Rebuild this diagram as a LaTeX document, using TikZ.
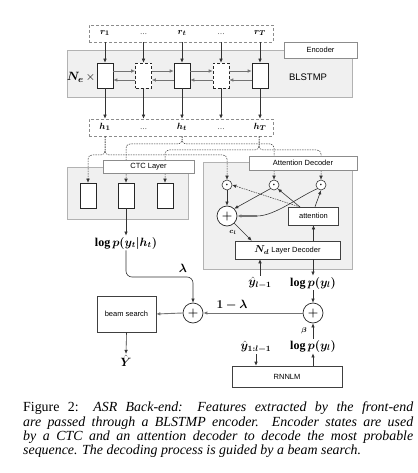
\documentclass[tikz,border=0pt]{standalone}
\usepackage{fontspec}
\setmainfont{Liberation Serif}
\setsansfont{Liberation Sans}
\usepackage{amsmath,bm}
\usetikzlibrary{arrows.meta,calc}
\begin{document}
\begin{tikzpicture}[x=1pt,y=-1pt,
  graybox/.style={draw=black!30, fill=black!6, line width=0.7pt, inner sep=0},
  lbl/.style={draw=black!45, fill=white, line width=0.6pt, inner sep=0, font=\sffamily\fontsize{7.5}{8}\selectfont},
  cell/.style={draw=black!85, fill=white, line width=0.6pt, minimum width=16pt, minimum height=25pt, inner sep=0},
  dcell/.style={cell, densely dashed},
  plainbox/.style={draw=black!75, fill=white, line width=0.6pt, inner sep=0},
  dbox/.style={draw=black!45, densely dashed, line width=0.6pt, inner sep=0},
  arr/.style={-{Latex[length=4pt,width=3.5pt]}, draw=black!80, line width=0.6pt},
  garr/.style={-{Latex[length=4pt,width=3.5pt]}, draw=black!55, line width=0.9pt},
  dsh/.style={-{Latex[length=4pt,width=3.5pt]}, draw=black!80, line width=0.5pt, dash pattern=on 1.5pt off 1pt, rounded corners=4},
  ml/.style={inner sep=1.2pt, font=\fontsize{12}{13}\selectfont},
  sl/.style={inner sep=0, font=\fontsize{9.5}{10}\selectfont},
  odot/.style={circle, draw=black!80, fill=white, line width=0.6pt, minimum size=10pt, inner sep=0},
  oplus/.style={circle, draw=black!85, fill=white, line width=0.7pt, minimum size=20pt, inner sep=0, font=\fontsize{13}{13}\selectfont}]
\useasboundingbox (0,0) rectangle (417,473);

% ---------------- Encoder ----------------
\node[graybox, minimum width=285pt, minimum height=47pt] (enc) at (209.5,73.5) {};
\node[lbl, minimum width=73pt, minimum height=16pt] (enclbl) at (320.5,50) {Encoder};
\node[inner sep=0, font=\sffamily\fontsize{9.5}{10}\selectfont] (blstmp) at (308,77) {BLSTMP};
\node[dbox, minimum width=184pt, minimum height=17pt] (rbox) at (181,33.5) {};
\node[dbox, minimum width=184pt, minimum height=17pt] (hbox) at (181,127.5) {};

\node[sl] (r1) at (105,33) {$\bm{r_1}$};
\node[sl] (rd1) at (143.5,34) {\fontsize{7}{8}\selectfont\dots};
\node[sl] (rt) at (182,33) {$\bm{r_t}$};
\node[sl] (rd2) at (221,34) {\fontsize{7}{8}\selectfont\dots};
\node[sl] (rT) at (260,33) {$\bm{r_T}$};

\node[sl] (h1) at (105,127) {$\bm{h_1}$};
\node[sl] (hd1) at (143.5,129) {\fontsize{7}{8}\selectfont\dots};
\node[sl] (ht) at (182,127) {$\bm{h_t}$};
\node[sl] (hd2) at (221,129) {\fontsize{7}{8}\selectfont\dots};
\node[sl] (hT) at (260,127) {$\bm{h_T}$};

\node[inner sep=0, font=\fontsize{13}{14}\selectfont] (ne) at (81,77) {$\bm{N_e}\,\times$};

\node[cell]  (c1) at (105,75.5) {};
\node[dcell] (c2) at (143.5,75.5) {};
\node[cell]  (c3) at (182,75.5) {};
\node[dcell] (c4) at (221,75.5) {};
\node[cell]  (c5) at (260,75.5) {};

\foreach \c in {c1,c2,c3,c4,c5}{
  \draw[arr] (rbox.south -| \c) -- (\c.north);
  \draw[arr] (\c.south) -- (hbox.north -| \c);
}
\foreach \a/\b in {c1/c2,c2/c3,c3/c4,c4/c5}{
  \draw[garr, line width=0.7pt] ($(\a.east)+(0,-4.5)$) -- ($(\b.west)+(0,-4.5)$);
  \draw[garr, line width=0.7pt] ($(\b.west)+(0,4.5)$) -- ($(\a.east)+(0,4.5)$);
}

% ---------------- CTC ----------------
\node[graybox, minimum width=121pt, minimum height=52pt] (ctc) at (127.5,193) {};
\node[cell] (t1) at (88,195.5) {};
\node[cell] (t2) at (126,195.5) {};
\node[cell] (t3) at (165,195.5) {};

% ---------------- Attention decoder ----------------
\node[graybox, minimum width=149pt, minimum height=107pt] (att) at (277.5,215.5) {};
\node[odot] (o1) at (227,185) {$\bm{\cdot}$};
\node[odot] (o2) at (274,185) {$\bm{\cdot}$};
\node[odot] (o3) at (321,185) {$\bm{\cdot}$};
\node[oplus] (pa) at (227,216) {$\bm{+}$};
\node[plainbox, minimum width=50pt, minimum height=18pt, font=\sffamily\fontsize{7.5}{8}\selectfont] (attn) at (313.5,216) {attention};
\node[plainbox, minimum width=105pt, minimum height=18pt, font=\sffamily\fontsize{7.5}{8}\selectfont] (dec) at (287.5,250) {{\fontsize{10}{10}\selectfont$\bm{N_d}$} Layer Decoder};

% braces from h to CTC / attention
\coordinate (b1) at (105,155);
\coordinate (b2) at (182,144);
\coordinate (b3) at (259,150);
\draw[dsh] (hbox.south -| b1) -- (b1) -| (t1.north);
\draw[dsh] (hbox.south -| b1) -- (b1) -| (o1.north);
\draw[dsh] (hbox.south -| b2) -- (b2) -| (t2.north);
\draw[dsh] (hbox.south -| b2) -- (b2) -| (o2.north);
\draw[dsh] (hbox.south -| b3) -- (b3) -| (t3.north);
\draw[dsh] (hbox.south -| b3) -- (b3) -| (o3.north);

\node[lbl, minimum width=91pt, minimum height=13pt] (ctclbl) at (148.5,166.5) {CTC Layer};
\node[lbl, minimum width=108pt, minimum height=14pt] (attlbl) at (303,163) {Attention Decoder};

% attention internals
\coordinate (as) at (300,207);
\coordinate (bend) at (257,216);
\draw[arr] (o1.south) -- (pa.north);
\draw[arr] (o2.south west) -- (pa.north east);
\draw[draw=black!80, line width=0.6pt] (o3.south west) .. controls (300,196) and (275,216) .. (bend);
\draw[garr, line width=1.3pt] (bend) -- (pa.east);
\draw[dsh] (as) -- (o1.east);
\draw[arr] (as) -- (o2.south east);
\draw[arr] ($(attn.north)+(1.5,0)$) -- (o3.south);
\draw[arr] (dec.north -| attn) -- (attn.south);
\draw[arr] (pa.south east) -- ($(dec.north west)+(17,0)$);
\node[inner sep=0, font=\fontsize{7.5}{8}\selectfont] (cl) at (233,232) {$\bm{c_l}$};

% ---------------- bottom ----------------
\node[ml] (lpt) at (126,243) {$\bm{\log p(y_t|h_t)}$};
\draw[arr] (t2.south) -- (lpt.north);

\node[oplus] (pl) at (193,313) {$\bm{+}$};
\node[oplus] (pr) at (313,313) {$\bm{+}$};
\node[plainbox, minimum width=59pt, minimum height=36pt, font=\sffamily\fontsize{7.5}{8}\selectfont] (beam) at (126.5,314) {beam search};
\node[ml] (Y) at (126,361) {$\bm{\hat{Y}}$};
\node[ml] (lam) at (183,268) {$\bm{\lambda}$};
\node[ml] (oml) at (232,305) {$\bm{1-\lambda}$};
\node[ml] (yl1) at (260,283) {$\bm{\hat{y}_{l-1}}$};
\node[ml] (lp1) at (313,283) {$\bm{\log p(y_l)}$};
\node[inner sep=0, font=\fontsize{7.5}{8}\selectfont] (beta) at (304,331) {$\bm{\beta}$};
\node[ml] (lp2) at (313,346) {$\bm{\log p(y_l)}$};
\node[ml] (y1l) at (256,347) {$\bm{\hat{y}_{1:l-1}}$};
\node[plainbox, minimum width=110pt, minimum height=21pt, font=\sffamily\fontsize{7.5}{8}\selectfont] (rnn) at (287,376.5) {RNNLM};

\draw[arr, rounded corners=6] (lpt.south) -- (126,277) -| (pl.north);
\draw[garr] (pr.west) -- (pl.east);
\draw[garr] (pl.west) -- (beam.east);
\draw[arr] (beam.south) -- (Y.north);
\draw[arr] (yl1.north) -- (yl1.north |- dec.south);
\draw[arr] (dec.south -| lp1) -- (lp1.north);
\draw[arr] (lp1.south) -- (pr.north);
\draw[arr] (lp2.north) -- (pr.south);
\draw[arr] (y1l.south) -- (y1l.south |- rnn.north);
\draw[arr] (rnn.north -| lp2) -- (lp2.south);

% ---------------- caption ----------------
\node[inner sep=0, text width=390pt, align=justify, anchor=north west, font=\fontsize{13.9}{14.1}\selectfont] (cap) at (23,402)
{Figure 2: \textit{ASR Back-end: Features extracted by the front-end\linebreak are passed through a BLSTMP encoder. Encoder states are used\linebreak by a CTC and an attention decoder to decode the most probable\linebreak sequence. The decoding process is guided by a beam search.}};
\end{tikzpicture}
\end{document}
